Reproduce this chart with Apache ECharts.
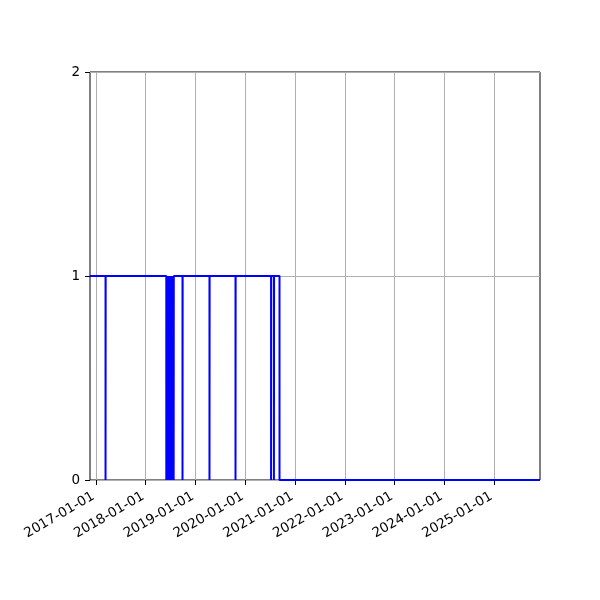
<!DOCTYPE html>
<html>
<head>
<meta charset="utf-8">
<script src="https://cdn.jsdelivr.net/npm/echarts@6/dist/echarts.min.js"></script>
<style>
html,body{margin:0;padding:0;background:#fff;}
#c{width:600px;height:600px;}
</style>
</head>
<body>
<div id="c"></div>
<script>
// Step series: dates and values
const dates = [
  '2016-11-18','2017-03-12','2017-03-13',
  '2018-06-01','2018-06-02','2018-06-08','2018-06-09','2018-06-14','2018-06-15',
  '2018-06-20','2018-06-21','2018-06-27','2018-06-28','2018-07-04','2018-07-05',
  '2018-07-11','2018-07-12','2018-07-18','2018-07-19','2018-07-25','2018-07-26',
  '2018-09-28','2018-09-29','2019-04-14','2019-04-15','2019-10-22','2019-10-23',
  '2020-07-09','2020-07-10','2020-07-30','2020-07-31','2020-09-09','2025-12-04'
];
const values = [
  1,0,1,
  0,1,0,1,0,1,
  0,1,0,1,0,1,
  0,1,0,1,0,1,
  0,1,0,1,0,1,
  0,1,0,1,0,0
];
const xTickLabels = ['2017-01-01','2018-01-01','2019-01-01','2020-01-01','2021-01-01','2022-01-01','2023-01-01','2024-01-01','2025-01-01'];
const yTicks = [0, 1, 2];

const xMin = '2016-11-18';
const xMax = '2025-12-04';

const chart = echarts.init(document.getElementById('c'), null, {renderer: 'canvas'});
const ts = s => new Date(s + 'T00:00:00Z').getTime();
const tickVals = xTickLabels.map(ts);
const pad = n => (n < 10 ? '0' : '') + n;
const fmt = v => { const d = new Date(v); return d.getUTCFullYear() + '-' + pad(d.getUTCMonth() + 1) + '-' + pad(d.getUTCDate()); };

chart.setOption({
  animation: false,
  grid: {left: 90, right: 60, top: 72, bottom: 120, show: true, borderColor: '#000', borderWidth: 1, backgroundColor: 'transparent'},
  xAxis: {
    type: 'value',
    min: ts(xMin), max: ts(xMax),
    axisLine: {show: false},
    axisTick: {show: true, length: 5, inside: false, lineStyle: {color: '#000'}, customValues: tickVals},
    axisLabel: {customValues: tickVals, formatter: v => fmt(v), rotate: 30, margin: 14, fontSize: 13.5, color: '#000', fontFamily: 'DejaVu Sans', padding: [0, 3, 0, 0]},
    splitLine: {show: true, lineStyle: {color: '#b0b0b0', width: 1}}
  },
  yAxis: {
    type: 'value', min: 0, max: 2, interval: 1,
    axisLine: {show: false},
    axisTick: {show: true, length: 5, lineStyle: {color: '#000'}},
    axisLabel: {margin: 10, fontSize: 13.5, color: '#000', fontFamily: 'DejaVu Sans', formatter: v => yTicks.includes(v) ? String(v) : ''},
    splitLine: {show: true, lineStyle: {color: '#b0b0b0', width: 1}}
  },
  series: [{
    type: 'line',
    step: 'end',
    showSymbol: false,
    symbol: 'none',
    data: dates.map((d, i) => [ts(d), values[i]]),
    lineStyle: {color: '#0000ff', width: 2},
    clip: true
  }]
});
</script>
</body>
</html>
